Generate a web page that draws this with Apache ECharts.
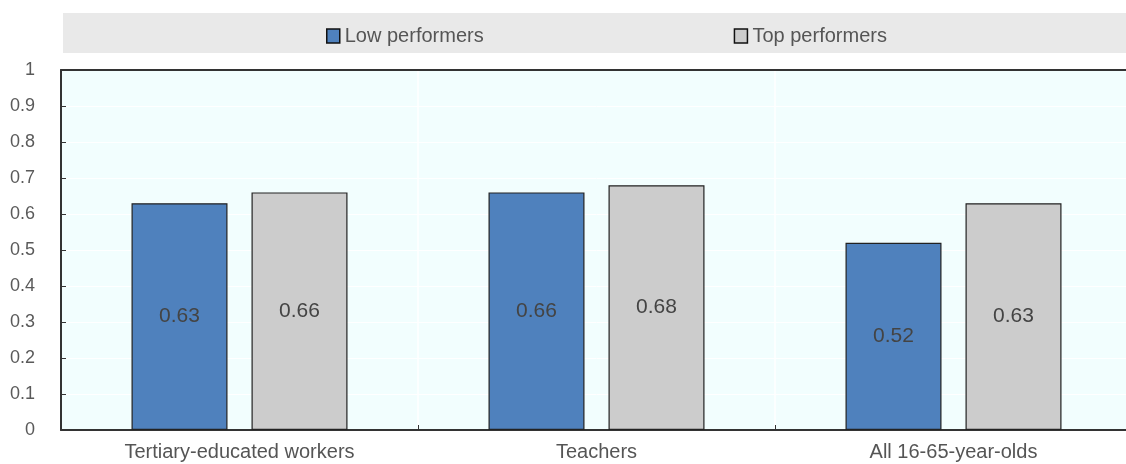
<!DOCTYPE html>
<html>
<head>
<meta charset="utf-8">
<script src="https://cdn.jsdelivr.net/npm/echarts@6/dist/echarts.min.js"></script>
<style>
  html, body { margin: 0; padding: 0; background: #fff; overflow: hidden; }
  /* plot area runs slightly past the right edge of the window, as in the source */
  #chart { width: 1132px; height: 464px; }
</style>
</head>
<body>
<div id="chart"></div>
<script>
// chart data
var categories = ["Tertiary-educated workers", "Teachers", "All 16-65-year-olds"];
var lowPerformers = [0.63, 0.66, 0.52];
var topPerformers = [0.66, 0.68, 0.63];
var yTicks = [0, 0.1, 0.2, 0.3, 0.4, 0.5, 0.6, 0.7, 0.8, 0.9, 1];

var FONT = "'Liberation Sans', Arial, sans-serif";
var chart = echarts.init(document.getElementById("chart"));

var labelStyle = {
  show: true,
  position: "inside",
  color: "#444",
  fontFamily: FONT,
  fontSize: 21,
  formatter: function (p) { return p.value.toFixed(2); },
};

chart.setOption({
  backgroundColor: "#fff",
  animation: false,
  graphic: [
    {
      // grey legend band
      type: "rect",
      z: -1,
      shape: { x: 63, y: 13, width: 1069, height: 40 },
      style: { fill: "#e9e9e9" },
    },
  ],
  legend: {
    top: 21,
    left: 321,
    icon: "rect",
    itemWidth: 13,
    itemHeight: 14,
    itemGap: 250,
    textStyle: { color: "#555", fontFamily: FONT, fontSize: 20 },
    data: [
      { name: "Low performers", itemStyle: { borderColor: "#111", borderWidth: 1.5 } },
      { name: "Top performers", itemStyle: { borderColor: "#111", borderWidth: 1.5 } },
    ],
  },
  grid: {
    left: 61,
    right: 0,
    top: 70,
    bottom: 34,
    show: true,
    backgroundColor: "#f2fefe",
    borderWidth: 0,
  },
  xAxis: [
    {
      type: "category",
      data: categories,
      axisLine: { lineStyle: { color: "#333", width: 2 } },
      axisTick: { show: true, inside: true, length: 5, lineStyle: { color: "#333" } },
      axisLabel: { color: "#555", fontFamily: FONT, fontSize: 20, margin: 12 },
      splitLine: { show: true, lineStyle: { color: "#ffffff", width: 1.5 } },
    },
    {
      // top border line
      type: "category",
      position: "top",
      data: categories,
      axisLine: { lineStyle: { color: "#333", width: 2 } },
      axisTick: { show: false },
      axisLabel: { show: false },
    },
  ],
  yAxis: {
    type: "value",
    min: 0,
    max: 1,
    interval: 0.1,
    axisLine: { show: true, lineStyle: { color: "#333", width: 2 } },
    axisTick: { show: true, inside: true, length: 5, lineStyle: { color: "#333" } },
    axisLabel: {
      color: "#5a5a5a",
      fontFamily: FONT,
      fontSize: 18,
      margin: 26,
      formatter: function (v) {
        var t = yTicks.find(function (x) { return Math.abs(x - v) < 1e-9; });
        return t === undefined ? "" : String(t);
      },
    },
    splitLine: { show: true, lineStyle: { color: "#ffffff", width: 1 } },
  },
  series: [
    {
      name: "Low performers",
      type: "bar",
      data: lowPerformers,
      barWidth: 96,
      barGap: "25%",
      itemStyle: { color: "#4f81bd", borderColor: "#222", borderWidth: 1.2 },
      label: labelStyle,
    },
    {
      name: "Top performers",
      type: "bar",
      data: topPerformers,
      barWidth: 96,
      barGap: "25%",
      itemStyle: { color: "#cccccc", borderColor: "#222", borderWidth: 1.2 },
      label: labelStyle,
    },
  ],
});
</script>
</body>
</html>
